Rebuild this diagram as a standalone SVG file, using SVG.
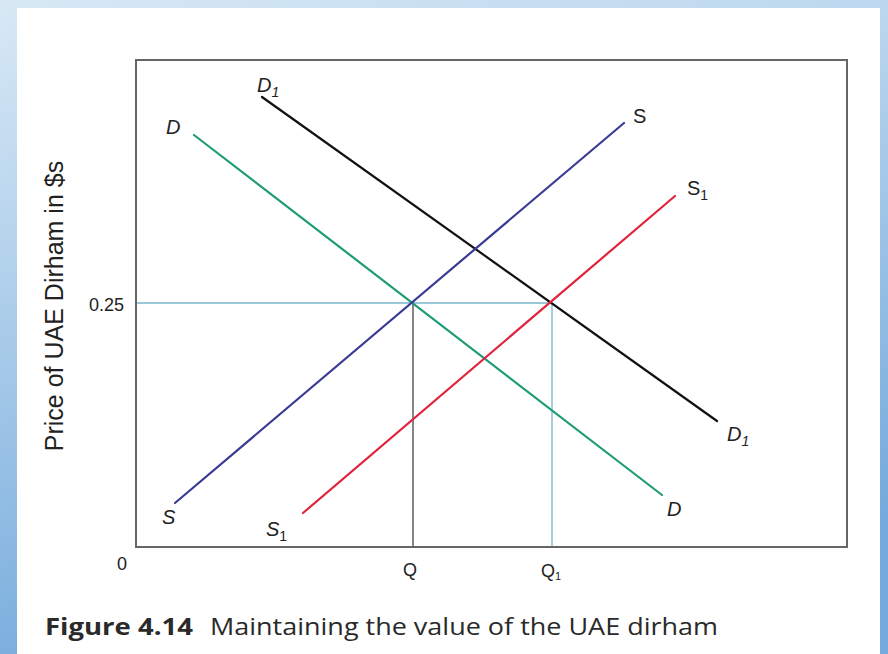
<svg xmlns="http://www.w3.org/2000/svg" width="888" height="654" viewBox="0 0 888 654">
<defs>
<linearGradient id="bg" x1="0" y1="0" x2="0.3" y2="1">
<stop offset="0" stop-color="#d8e9f5"/>
<stop offset="1" stop-color="#74aadc"/>
</linearGradient>
</defs>
<style>
.lbl{font-family:"Liberation Sans",Arial,sans-serif;fill:#222;}
.it{font-style:italic;}
.curve{fill:none;stroke-width:2.2;stroke-linecap:round;}
.guide{fill:none;stroke-width:1.3;}
</style>
<rect x="0" y="0" width="888" height="654" fill="url(#bg)"/>
<rect x="17" y="8" width="863" height="646" fill="#ffffff"/>
<g id="axes">
<rect x="136" y="60" width="711" height="487" fill="none" stroke="#666" stroke-width="2"/>
</g>
<g id="connectors">
<line class="guide" x1="137" y1="303" x2="552" y2="303" stroke="#7ab4cc"/>
<line class="guide" x1="413" y1="303" x2="413" y2="546" stroke="#444"/>
<line class="guide" x1="552" y1="303" x2="552" y2="546" stroke="#7ab4cc"/>
<line id="curve-D" class="curve" x1="194" y1="135" x2="662" y2="495" stroke="#1e9c78"/>
<line id="curve-D1" class="curve" x1="262" y1="97" x2="717" y2="421" stroke="#111"/>
<line id="curve-S" class="curve" x1="175" y1="503" x2="624" y2="123" stroke="#3b3b96"/>
<line id="curve-S1" class="curve" x1="303" y1="513" x2="675" y2="196" stroke="#e0243c"/>
</g>
<g id="label-D-top"><text class="lbl it" x="166" y="134" font-size="20">D</text></g>
<g id="label-D1-top"><text class="lbl it" x="257" y="92" font-size="20">D<tspan font-size="14" dy="5">1</tspan></text></g>
<g id="label-S-top"><text class="lbl" x="633" y="123" font-size="20">S</text></g>
<g id="label-S1-top"><text class="lbl" x="687" y="195" font-size="20">S<tspan font-size="14" dy="5">1</tspan></text></g>
<g id="label-D1-bottom"><text class="lbl it" x="727" y="441" font-size="20">D<tspan font-size="14" dy="5">1</tspan></text></g>
<g id="label-D-bottom"><text class="lbl it" x="667" y="516" font-size="20">D</text></g>
<g id="label-S-bottom"><text class="lbl it" x="162" y="524" font-size="20" font-family="Liberation Serif">S</text></g>
<g id="label-S1-bottom"><text class="lbl it" x="266" y="536" font-size="20" font-family="Liberation Serif">S<tspan font-size="14" dy="5" font-style="normal">1</tspan></text></g>
<g id="label-025"><text class="lbl" x="124" y="311" font-size="18" text-anchor="end">0.25</text></g>
<g id="label-0"><text class="lbl" x="122" y="570" font-size="18" text-anchor="middle">0</text></g>
<g id="label-Q"><text class="lbl" x="410" y="576" font-size="18" text-anchor="middle">Q</text></g>
<g id="label-Q1"><text class="lbl" x="551" y="577" font-size="18" text-anchor="middle">Q<tspan font-size="11" dy="3">1</tspan></text></g>
<g id="label-yaxis"><text class="lbl" transform="translate(63,306) rotate(-90)" font-size="25" text-anchor="middle">Price of UAE Dirham in $s</text></g>
<g id="caption"><text x="45" y="635" font-size="24" font-family="'Open Sans','Liberation Sans',sans-serif" fill="#2a2a2a"><tspan font-weight="bold" textLength="148" lengthAdjust="spacingAndGlyphs">Figure 4.14</tspan><tspan x="210" textLength="508" lengthAdjust="spacingAndGlyphs">Maintaining the value of the UAE dirham</tspan></text></g>
</svg>
